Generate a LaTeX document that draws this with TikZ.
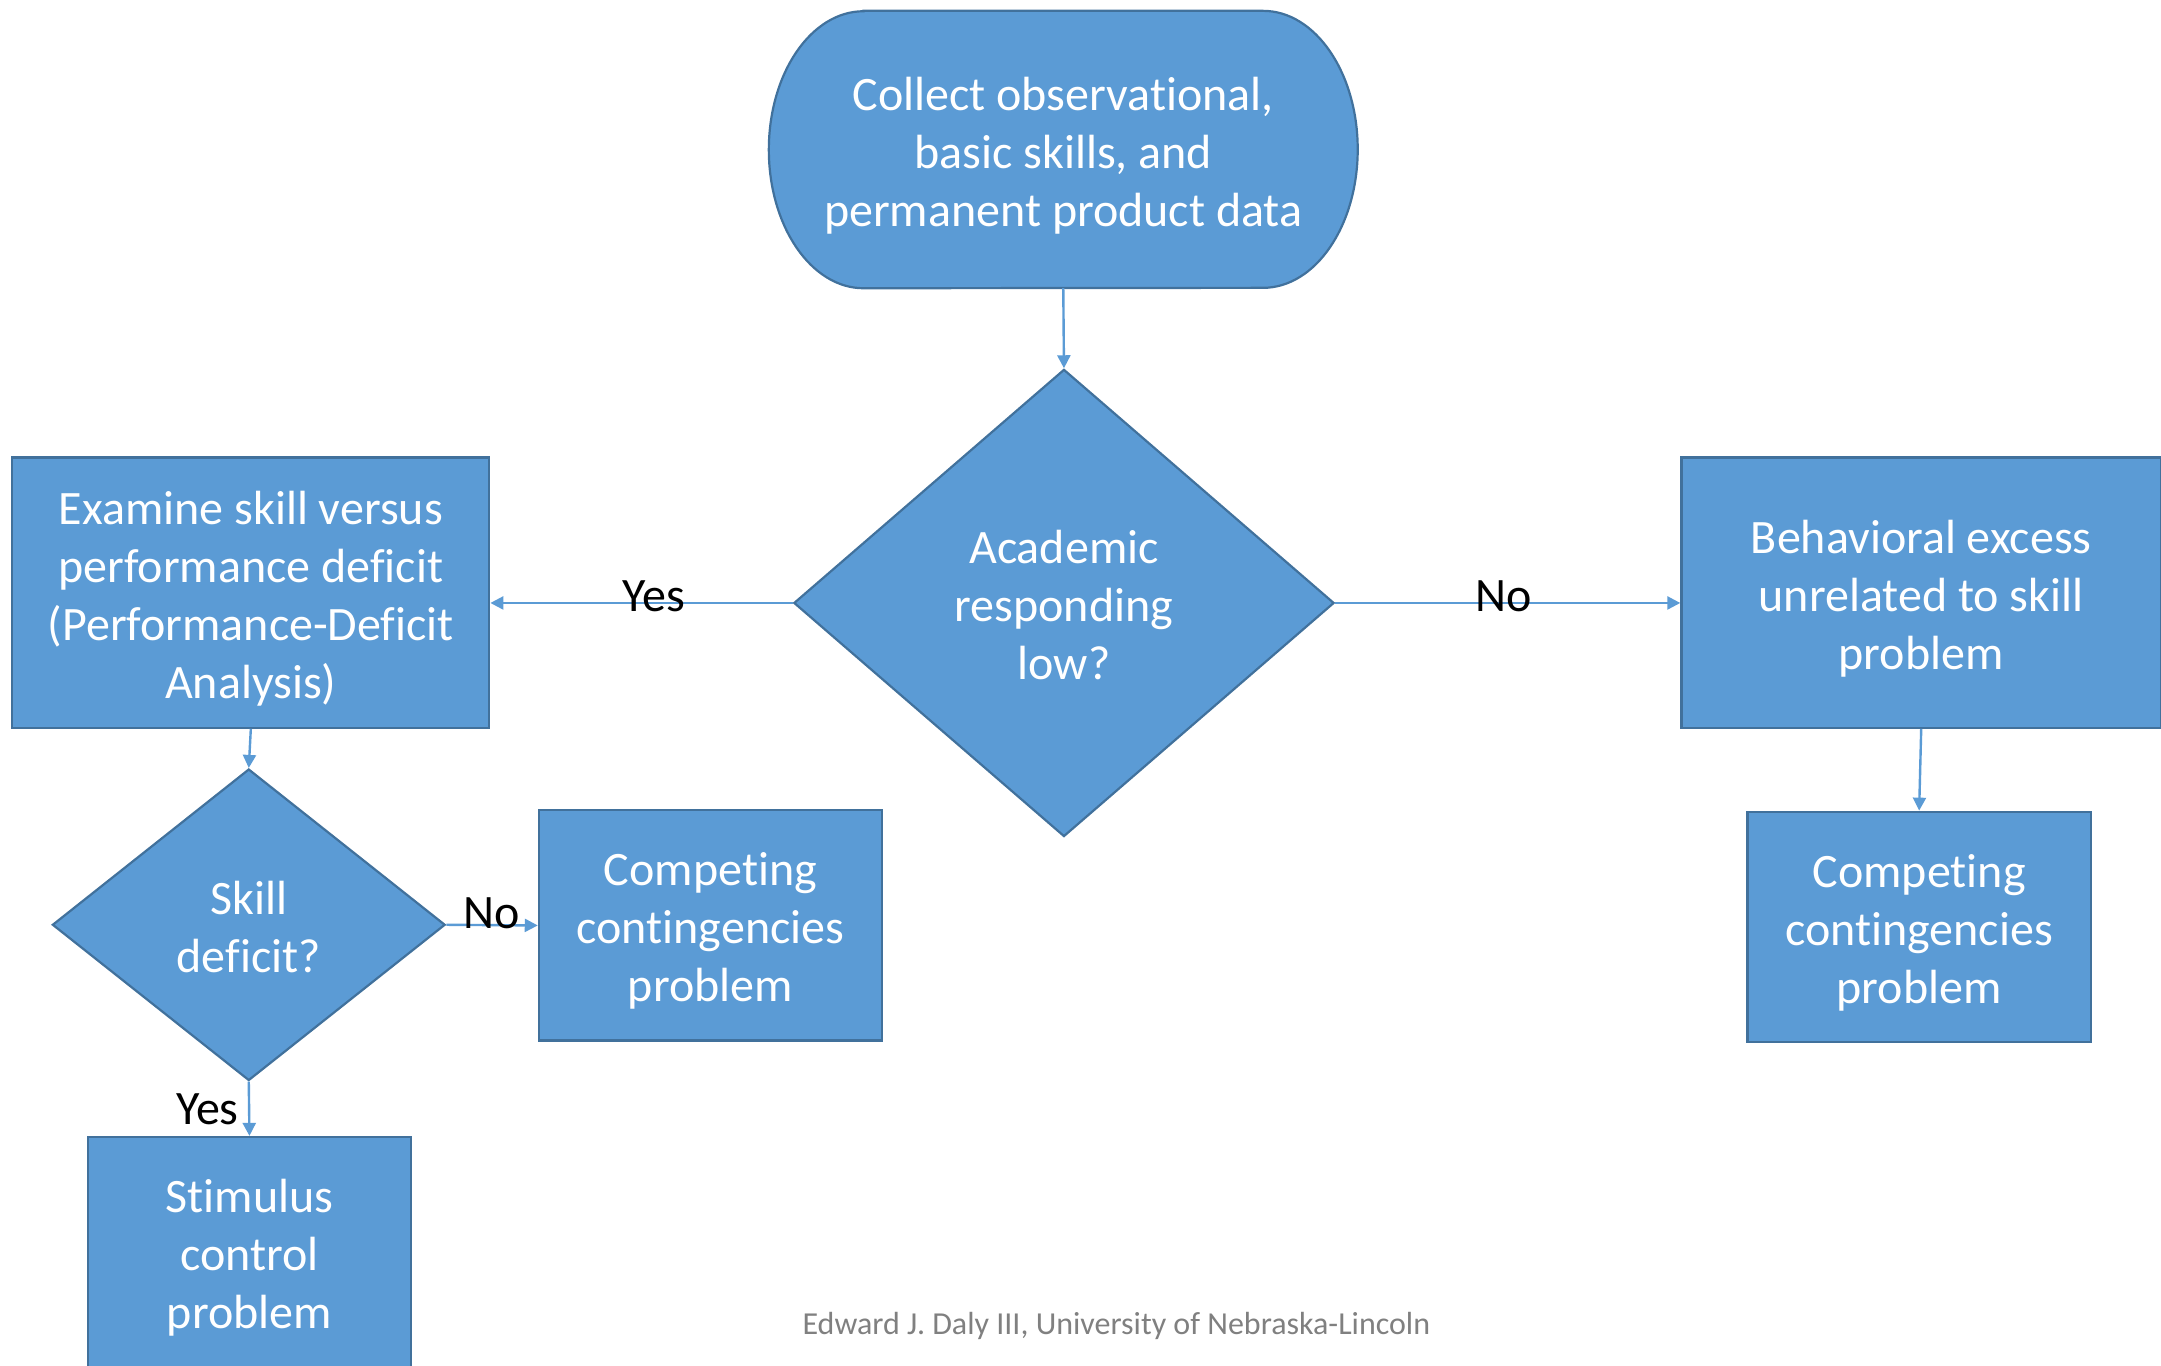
\documentclass[tikz,border=0pt]{standalone}
\usepackage{fontspec}
\setmainfont{Carlito}[Ligatures=NoCommon]
\usetikzlibrary{shapes.geometric, arrows.meta}
\pgfdeclarelayer{background}
\pgfsetlayers{background,main}
\definecolor{officeblue}{HTML}{5B9BD5}
\definecolor{officeedge}{HTML}{41719C}
\definecolor{footgray}{HTML}{808080}
\begin{document}
\begin{tikzpicture}[x=1.3782pt, y=1.3782pt,
  bodyfont/.style={font=\fontsize{48}{58}\selectfont},
  flowtext/.style={bodyfont, text=white, align=center, text depth=12pt},
  twolines/.style={text height=107pt},
  threelines/.style={text height=165pt},
  fourlines/.style={text height=223pt},
  flowbox/.style={rectangle, draw=officeedge, line width=2.2pt, fill=officeblue,
    flowtext, inner sep=0pt},
  decision/.style={diamond, draw=officeedge, line width=2.2pt, fill=officeblue,
    inner sep=0pt},
  flowarrow/.style={draw=officeblue, line width=2.4pt,
    -{Triangle[length=13pt, width=13pt]}},
  branchlabel/.style={bodyfont, text=black, inner sep=0pt, anchor=base}]

\useasboundingbox (0,0) rectangle (1568,-991);

% start terminator
\node[flowtext, threelines, minimum width=588.5pt, minimum height=277pt, inner sep=0pt]
  (collect) at (771.5,-108.5) {Collect observational,\\basic skills, and\\permanent product data};
\begin{pgfonlayer}{background}
  \draw[draw=officeedge, line width=2.2pt, fill=officeblue]
    ([xshift=94.7pt]collect.north west) -- ([xshift=-94.7pt]collect.north east)
    arc[start angle=90, end angle=-90, x radius=94.7pt, y radius=138.5pt]
    -- ([xshift=94.7pt]collect.south west)
    arc[start angle=270, end angle=90, x radius=94.7pt, y radius=138.5pt] -- cycle;
\end{pgfonlayer}

% decisions
\node[decision, minimum width=540.3pt, minimum height=467.2pt,
  label={[flowtext, threelines, inner sep=0pt]center:Academic\\responding\\low?}]
  (academic) at (772,-437.5) {};
\node[decision, minimum width=392.8pt, minimum height=311.5pt,
  label={[flowtext, twolines, inner sep=0pt]center:Skill\\deficit?}]
  (skill) at (180.5,-671) {};

% process boxes
\node[flowbox, fourlines, minimum width=476.9pt, minimum height=270.1pt]
  (examine) at (182,-430) {Examine skill versus\\performance deficit\\(Performance-Deficit\\Analysis)};
\node[flowbox, threelines, minimum width=479.6pt, minimum height=270.1pt]
  (excess) at (1394,-430) {Behavioral excess\\unrelated to skill\\problem};
\node[flowbox, threelines, minimum width=343.2pt, minimum height=230.2pt]
  (competeL) at (515.5,-671.5) {Competing\\contingencies\\problem};
\node[flowbox, threelines, minimum width=343.2pt, minimum height=230.2pt]
  (competeR) at (1392.5,-672.5) {Competing\\contingencies\\problem};
\node[flowbox, threelines, minimum width=322.5pt, minimum height=230.2pt]
  (stimulus) at (181,-908.5) {Stimulus\\control\\problem};

% connectors
\draw[flowarrow] (collect.south) -- (academic.north);
\draw[flowarrow] (academic.west) -- (academic.west -| examine.east);
\draw[flowarrow] (academic.east) -- (academic.east -| excess.west);
\draw[flowarrow] (examine.south) -- (skill.north);
\draw[flowarrow] (skill.east) -- (competeL.west);
\draw[flowarrow] (skill.south) -- (stimulus.north);
\draw[flowarrow] (excess.south) -- (competeR.north);

% branch labels
\node[branchlabel] (yesA) at (474.5,-444) {Yes};
\node[branchlabel] (noA) at (1091,-444) {No};
\node[branchlabel] (noS) at (356.5,-674) {No};
\node[branchlabel] (yesS) at (150.5,-816) {Yes};

% credit line
\node[font=\fontsize{32}{38}\selectfont, text=footgray, anchor=base, inner sep=0pt]
  (credit) at (810,-968) {Edward J. Daly III, University of Nebraska-Lincoln};
\end{tikzpicture}
\end{document}
